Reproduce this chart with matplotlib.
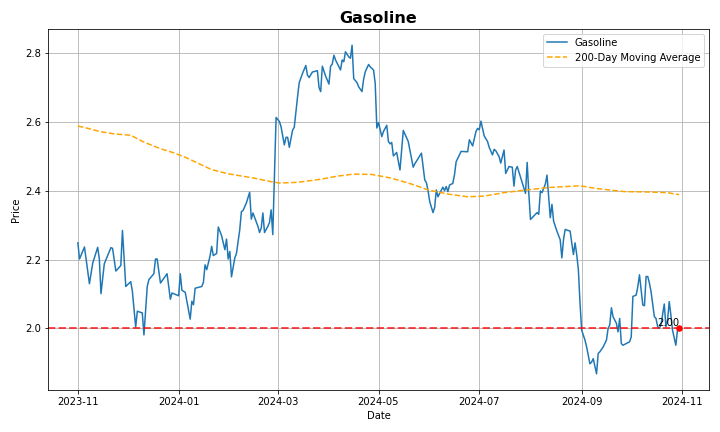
import pandas as pd
import matplotlib
matplotlib.use('Agg')
import matplotlib.pyplot as plt

# Daily gasoline price
price_dates = [
    '2023-11-01', '2023-11-02', '2023-11-05', '2023-11-08', '2023-11-10', '2023-11-13',
    '2023-11-14', '2023-11-15', '2023-11-17', '2023-11-21', '2023-11-22', '2023-11-24',
    '2023-11-27', '2023-11-28', '2023-11-30', '2023-12-03', '2023-12-04', '2023-12-06',
    '2023-12-07', '2023-12-10', '2023-12-11', '2023-12-13', '2023-12-14', '2023-12-17',
    '2023-12-18', '2023-12-19', '2023-12-21', '2023-12-25', '2023-12-27', '2023-12-28',
    '2024-01-01', '2024-01-02', '2024-01-03', '2024-01-05', '2024-01-08', '2024-01-09',
    '2024-01-10', '2024-01-11', '2024-01-15', '2024-01-16', '2024-01-17', '2024-01-18',
    '2024-01-20', '2024-01-21', '2024-01-22', '2024-01-24', '2024-01-25', '2024-01-27',
    '2024-01-29', '2024-01-30', '2024-01-31', '2024-02-01', '2024-02-02', '2024-02-04',
    '2024-02-05', '2024-02-07', '2024-02-08', '2024-02-09', '2024-02-11', '2024-02-13',
    '2024-02-14', '2024-02-15', '2024-02-18', '2024-02-19', '2024-02-20', '2024-02-21',
    '2024-02-22', '2024-02-24', '2024-02-25', '2024-02-26', '2024-02-27', '2024-02-29',
    '2024-03-02', '2024-03-03', '2024-03-05', '2024-03-06', '2024-03-07', '2024-03-08',
    '2024-03-10', '2024-03-11', '2024-03-13', '2024-03-14', '2024-03-16', '2024-03-18',
    '2024-03-19', '2024-03-20', '2024-03-22', '2024-03-25', '2024-03-26', '2024-03-27',
    '2024-03-28', '2024-03-30', '2024-04-01', '2024-04-02', '2024-04-03', '2024-04-04',
    '2024-04-05', '2024-04-08', '2024-04-09', '2024-04-10', '2024-04-11', '2024-04-13',
    '2024-04-14', '2024-04-15', '2024-04-16', '2024-04-18', '2024-04-19', '2024-04-21',
    '2024-04-22', '2024-04-23', '2024-04-25', '2024-04-26', '2024-04-28', '2024-04-29',
    '2024-04-30', '2024-05-01', '2024-05-03', '2024-05-04', '2024-05-06', '2024-05-07',
    '2024-05-08', '2024-05-09', '2024-05-10', '2024-05-12', '2024-05-14', '2024-05-16',
    '2024-05-19', '2024-05-22', '2024-05-23', '2024-05-27', '2024-05-29', '2024-05-30',
    '2024-05-31', '2024-06-01', '2024-06-03', '2024-06-04', '2024-06-05', '2024-06-06',
    '2024-06-07', '2024-06-09', '2024-06-10', '2024-06-11', '2024-06-12', '2024-06-13',
    '2024-06-15', '2024-06-16', '2024-06-17', '2024-06-20', '2024-06-24', '2024-06-25',
    '2024-06-27', '2024-06-29', '2024-06-30', '2024-07-01', '2024-07-02', '2024-07-03',
    '2024-07-04', '2024-07-06', '2024-07-07', '2024-07-09', '2024-07-10', '2024-07-11',
    '2024-07-13', '2024-07-14', '2024-07-16', '2024-07-17', '2024-07-19', '2024-07-21',
    '2024-07-22', '2024-07-23', '2024-07-24', '2024-07-26', '2024-07-29', '2024-07-30',
    '2024-07-31', '2024-08-01', '2024-08-03', '2024-08-05', '2024-08-06', '2024-08-07',
    '2024-08-08', '2024-08-10', '2024-08-11', '2024-08-13', '2024-08-14', '2024-08-15',
    '2024-08-17', '2024-08-19', '2024-08-20', '2024-08-21', '2024-08-22', '2024-08-25',
    '2024-08-27', '2024-08-28', '2024-08-29', '2024-08-30', '2024-08-31', '2024-09-01',
    '2024-09-03', '2024-09-04', '2024-09-06', '2024-09-07', '2024-09-08', '2024-09-10',
    '2024-09-11', '2024-09-12', '2024-09-14', '2024-09-16', '2024-09-17', '2024-09-18',
    '2024-09-19', '2024-09-20', '2024-09-22', '2024-09-23', '2024-09-24', '2024-09-25',
    '2024-09-26', '2024-09-28', '2024-09-30', '2024-10-01', '2024-10-02', '2024-10-04',
    '2024-10-05', '2024-10-06', '2024-10-08', '2024-10-09', '2024-10-10', '2024-10-11',
    '2024-10-12', '2024-10-13', '2024-10-15', '2024-10-16', '2024-10-17', '2024-10-18',
    '2024-10-19', '2024-10-21', '2024-10-22', '2024-10-23', '2024-10-24', '2024-10-25',
    '2024-10-26', '2024-10-28', '2024-10-29', '2024-10-30',
]
prices = [
    2.249, 2.202, 2.237, 2.130, 2.190, 2.236,
    2.202, 2.101, 2.188, 2.235, 2.233, 2.167,
    2.183, 2.285, 2.122, 2.136, 2.108, 2.004,
    2.050, 2.045, 1.981, 2.122, 2.142, 2.159,
    2.202, 2.202, 2.132, 2.159, 2.085, 2.103,
    2.095, 2.159, 2.111, 2.105, 2.027, 2.079,
    2.069, 2.117, 2.122, 2.134, 2.185, 2.171,
    2.210, 2.239, 2.212, 2.218, 2.295, 2.270,
    2.229, 2.260, 2.202, 2.224, 2.150, 2.205,
    2.218, 2.287, 2.340, 2.343, 2.365, 2.396,
    2.318, 2.336, 2.297, 2.279, 2.292, 2.336,
    2.279, 2.297, 2.308, 2.345, 2.273, 2.614,
    2.602, 2.587, 2.534, 2.556, 2.556, 2.527,
    2.577, 2.585, 2.674, 2.715, 2.742, 2.765,
    2.737, 2.730, 2.746, 2.750, 2.701, 2.689,
    2.763, 2.734, 2.711, 2.763, 2.769, 2.795,
    2.781, 2.752, 2.781, 2.776, 2.805, 2.790,
    2.786, 2.824, 2.727, 2.715, 2.703, 2.689,
    2.725, 2.747, 2.768, 2.761, 2.752, 2.713,
    2.583, 2.599, 2.558, 2.573, 2.591, 2.544,
    2.537, 2.541, 2.502, 2.512, 2.461, 2.576,
    2.544, 2.469, 2.479, 2.510, 2.432, 2.424,
    2.401, 2.369, 2.337, 2.352, 2.403, 2.383,
    2.393, 2.411, 2.401, 2.413, 2.398, 2.417,
    2.422, 2.447, 2.485, 2.515, 2.514, 2.549,
    2.531, 2.573, 2.582, 2.578, 2.603, 2.582,
    2.560, 2.544, 2.527, 2.505, 2.521, 2.517,
    2.500, 2.481, 2.519, 2.451, 2.471, 2.469,
    2.414, 2.461, 2.471, 2.440, 2.393, 2.483,
    2.393, 2.317, 2.327, 2.337, 2.332, 2.400,
    2.395, 2.420, 2.446, 2.322, 2.361, 2.312,
    2.283, 2.258, 2.205, 2.258, 2.288, 2.283,
    2.215, 2.249, 2.215, 2.171, 2.073, 1.995,
    1.966, 1.946, 1.897, 1.902, 1.912, 1.868,
    1.927, 1.932, 1.946, 1.966, 2.000, 2.010,
    2.060, 2.034, 2.015, 1.990, 2.029, 1.956,
    1.951, 1.956, 1.961, 1.975, 2.093, 2.097,
    2.122, 2.156, 2.068, 2.066, 2.151, 2.151,
    2.132, 2.107, 2.034, 2.029, 2.005, 2.000,
    2.010, 2.071, 2.005, 2.024, 2.078, 2.039,
    1.995, 1.951, 1.995, 2.000,
]

# 200-day moving average
ma_dates = [
    '2023-11-01', '2023-11-08', '2023-11-15', '2023-11-23', '2023-12-03', '2023-12-11',
    '2023-12-21', '2023-12-29', '2024-01-06', '2024-01-13', '2024-01-21', '2024-01-31',
    '2024-02-16', '2024-02-26', '2024-03-02', '2024-03-13', '2024-03-27', '2024-04-06',
    '2024-04-16', '2024-04-27', '2024-05-09', '2024-05-21', '2024-05-31', '2024-06-12',
    '2024-06-24', '2024-07-04', '2024-07-16', '2024-07-26', '2024-08-12', '2024-08-31',
    '2024-09-10', '2024-09-27', '2024-10-11', '2024-10-23', '2024-10-30',
]
ma_values = [
    2.589, 2.581, 2.572, 2.566, 2.562, 2.542,
    2.523, 2.511, 2.496, 2.480, 2.462, 2.450,
    2.437, 2.427, 2.423, 2.425, 2.434, 2.443,
    2.449, 2.448, 2.437, 2.420, 2.403, 2.391,
    2.383, 2.385, 2.395, 2.401, 2.410, 2.415,
    2.407, 2.398, 2.397, 2.395, 2.389,
]

threshold = 2.00

x = pd.to_datetime(price_dates)
xm = pd.to_datetime(ma_dates)

fig, ax = plt.subplots(figsize=(10, 6), dpi=72)

ax.plot(x, prices, color='#1f77b4', linewidth=1.5, label='Gasoline')
ax.plot(xm, ma_values, color='orange', linestyle='--', linewidth=1.5,
        label='200-Day Moving Average')

# threshold line and last point marker
ax.axhline(y=threshold, color='red', linestyle='--', linewidth=2, alpha=0.7)
ax.scatter([x[-1]], [prices[-1]], color='red', s=30, zorder=5)
ax.text(x[-1], prices[-1], f'{prices[-1]:.2f}', ha='right', va='bottom', fontsize=10)

ax.set_title('Gasoline', fontsize=16, fontweight='bold')
ax.set_xlabel('Date')
ax.set_ylabel('Price')
ax.legend(loc='upper right')
ax.grid(True)

plt.tight_layout()
plt.savefig('out.png', dpi=72)
